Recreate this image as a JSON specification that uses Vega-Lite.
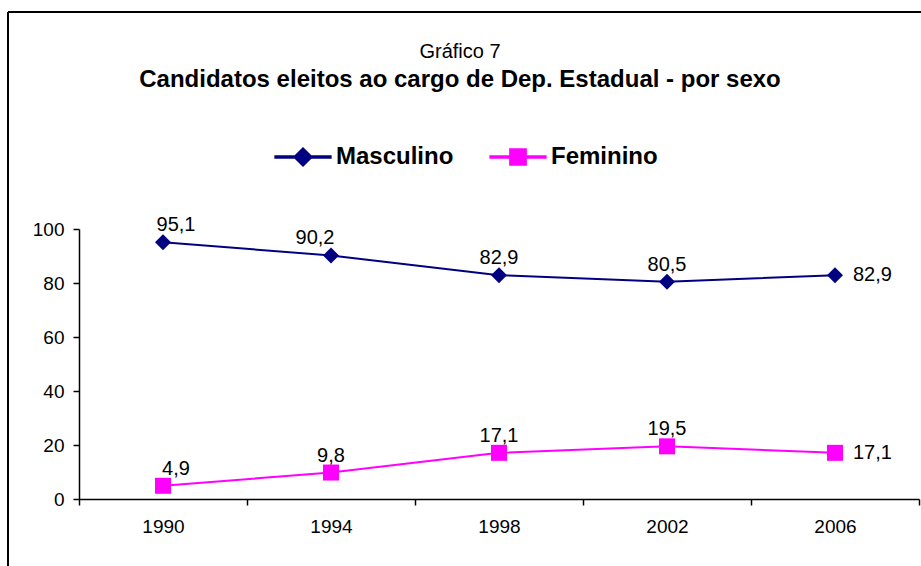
{
  "$schema": "https://vega.github.io/schema/vega-lite/v6.json",
  "autosize": {"type": "none"},
  "padding": {"left": 8, "top": 12, "right": 0, "bottom": 0},
  "width": 913,
  "height": 554,
  "background": "white",
  "config": {
    "view": {"stroke": "#000000", "strokeWidth": 2, "strokeDash": [913, 1467, 554, 0]},
    "locale": {"number": {"decimal": ",", "thousands": ".", "grouping": [3], "currency": ["R$", ""]}},
    "font": "Liberation Sans"
  },
  "title": {
    "text": "Gráfico 7",
    "subtitle": "Candidatos eleitos ao cargo de Dep. Estadual - por sexo",
    "anchor": "start",
    "frame": "group",
    "dx": 452,
    "align": "center",
    "offset": -80,
    "font": "Liberation Sans",
    "fontSize": 20,
    "fontWeight": "normal",
    "color": "#000000",
    "subtitleFont": "Liberation Sans",
    "subtitleFontSize": 24,
    "subtitleFontWeight": "bold",
    "subtitleColor": "#000000",
    "subtitlePadding": 6
  },
  "data": {
    "values": [
      {"ano": "1990", "sexo": "Masculino", "valor": 95.1},
      {"ano": "1994", "sexo": "Masculino", "valor": 90.2},
      {"ano": "1998", "sexo": "Masculino", "valor": 82.9},
      {"ano": "2002", "sexo": "Masculino", "valor": 80.5},
      {"ano": "2006", "sexo": "Masculino", "valor": 82.9},
      {"ano": "1990", "sexo": "Feminino", "valor": 4.9},
      {"ano": "1994", "sexo": "Feminino", "valor": 9.8},
      {"ano": "1998", "sexo": "Feminino", "valor": 17.1},
      {"ano": "2002", "sexo": "Feminino", "valor": 19.5},
      {"ano": "2006", "sexo": "Feminino", "valor": 17.1}
    ]
  },
  "encoding": {
    "x": {
      "field": "ano",
      "type": "ordinal",
      "scale": {"type": "band", "range": [71, 911], "paddingInner": 0, "paddingOuter": 0},
      "axis": {
        "title": null,
        "tickBand": "extent",
        "labelAngle": 0,
        "offset": -67,
        "grid": false,
        "domainColor": "#000000",
        "domainWidth": 1.5,
        "tickColor": "#000000",
        "tickWidth": 1.5,
        "tickSize": 6,
        "labelFont": "Liberation Sans",
        "labelFontSize": 19,
        "labelColor": "#000000",
        "labelPadding": 12
      }
    },
    "y": {
      "field": "valor",
      "type": "quantitative",
      "scale": {"domain": [0, 100], "range": [487, 217], "nice": false},
      "axis": {
        "title": null,
        "values": [0, 20, 40, 60, 80, 100],
        "offset": -71,
        "grid": false,
        "domainColor": "#000000",
        "domainWidth": 1.5,
        "tickColor": "#000000",
        "tickWidth": 1.5,
        "tickSize": 6,
        "labelFont": "Liberation Sans",
        "labelFontSize": 19,
        "labelColor": "#000000",
        "labelPadding": 9
      }
    },
    "color": {
      "field": "sexo",
      "type": "nominal",
      "scale": {"domain": ["Masculino", "Feminino"], "range": ["#000080", "#FF00FF"]},
      "legend": {
        "orient": "none",
        "legendX": 283,
        "legendY": 133,
        "direction": "horizontal",
        "title": null,
        "symbolSize": 324,
        "labelFont": "Liberation Sans",
        "labelFontSize": 24,
        "labelFontWeight": "bold",
        "labelColor": "#000000",
        "labelOffset": 21,
        "columnPadding": 33,
        "encode": {
          "symbols": {
            "update": {
              "shape": {"signal": "datum.value === 'Masculino' ? 'M-3.1,-0.11L3.1,-0.11L3.1,0.11L-3.1,0.11ZM0,-1L1,0L0,1L-1,0Z' : 'M-3.1,-0.11L3.1,-0.11L3.1,0.11L-3.1,0.11ZM-0.9,-0.9L0.9,-0.9L0.9,0.9L-0.9,0.9Z'"},
              "fill": {"signal": "scale('color', datum.value)"},
              "fillOpacity": {"value": 1},
              "opacity": {"value": 1}
            }
          }
        }
      }
    }
  },
  "layer": [
    {"mark": {"type": "line", "strokeWidth": 2}},
    {
      "transform": [{"filter": "datum.sexo == 'Masculino'"}],
      "mark": {"type": "point", "filled": true, "opacity": 1, "size": 256, "shape": "diamond"}
    },
    {
      "transform": [{"filter": "datum.sexo == 'Feminino'"}],
      "mark": {"type": "point", "filled": true, "opacity": 1, "size": 256, "shape": "square"}
    },
    {
      "transform": [{"filter": "datum.ano != '2006' && datum.ano != '1990' && !(datum.ano == '1994' && datum.sexo == 'Masculino')"}],
      "mark": {"type": "text", "baseline": "bottom", "align": "center", "dy": -7, "fontSize": 20, "font": "Liberation Sans"},
      "encoding": {
        "text": {"field": "valor", "type": "quantitative", "format": ".1f"},
        "color": {"value": "#000000"}
      }
    },
    {
      "transform": [{"filter": "datum.ano == '1994' && datum.sexo == 'Masculino'"}],
      "mark": {"type": "text", "baseline": "bottom", "align": "center", "dy": -7, "dx": -16, "fontSize": 20, "font": "Liberation Sans"},
      "encoding": {
        "text": {"field": "valor", "type": "quantitative", "format": ".1f"},
        "color": {"value": "#000000"}
      }
    },
    {
      "transform": [{"filter": "datum.ano == '1990'"}],
      "mark": {"type": "text", "baseline": "bottom", "align": "center", "dy": -7, "dx": 13, "fontSize": 20, "font": "Liberation Sans"},
      "encoding": {
        "text": {"field": "valor", "type": "quantitative", "format": ".1f"},
        "color": {"value": "#000000"}
      }
    },
    {
      "transform": [{"filter": "datum.ano == '2006'"}],
      "mark": {"type": "text", "baseline": "middle", "align": "left", "dx": 18, "fontSize": 20, "font": "Liberation Sans"},
      "encoding": {
        "text": {"field": "valor", "type": "quantitative", "format": ".1f"},
        "color": {"value": "#000000"}
      }
    }
  ]
}
